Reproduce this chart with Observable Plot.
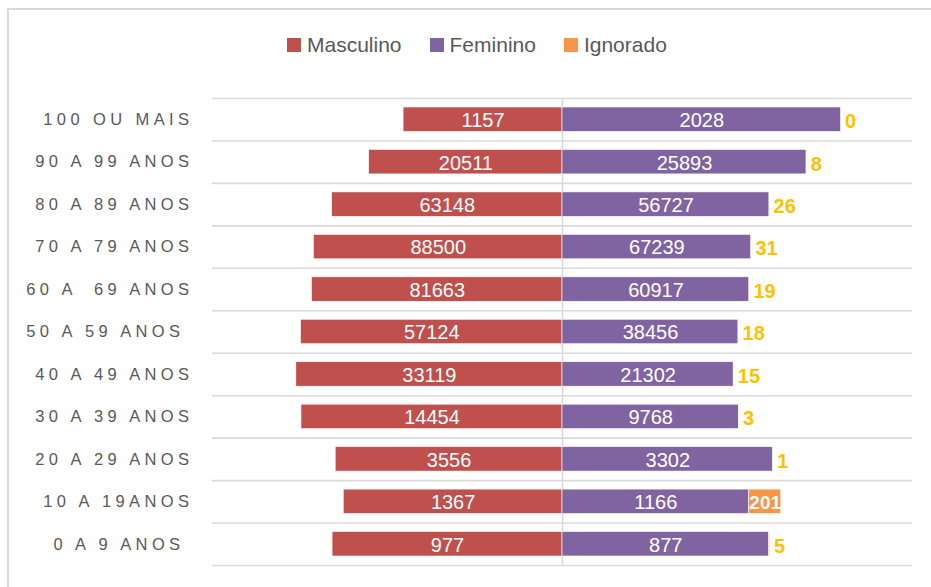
<!DOCTYPE html>
<html>
<head>
<meta charset="utf-8">
<script src="https://cdn.jsdelivr.net/npm/d3@7"></script>
<script src="https://cdn.jsdelivr.net/npm/@observablehq/plot@0.6"></script>
<style>
  html, body { margin: 0; padding: 0; background: #fff; }
  body { width: 931px; height: 587px; position: relative; overflow: hidden; font-family: "Liberation Sans", Arial, sans-serif; }
  #frame { position: absolute; left: 7px; top: 8px; width: 940px; height: 600px; border-left: 2px solid #d9d9d9; border-top: 2px solid #d9d9d9; box-sizing: border-box; }
  #legend { position: absolute; left: 287px; top: 33px; display: flex; align-items: center; gap: 28px; font-size: 21px; color: #595959; }
  #legend .it { display: flex; align-items: center; gap: 6px; }
  #legend .sw { width: 14px; height: 14px; display: inline-block; }
  #chart { position: absolute; left: 0; top: 0; }
  .pyr [aria-label="y-axis tick label"] text { letter-spacing: 4.4px; white-space: pre; }
</style>
</head>
<body>
<div id="frame"></div>
<div id="legend"></div>
<div id="chart"></div>
<script>
const ages = ["100 OU MAIS", "90 A 99 ANOS", "80 A 89 ANOS", "70 A 79 ANOS", "60 A  69 ANOS", "50 A 59 ANOS ", "40 A 49 ANOS", "30 A 39 ANOS", "20 A 29 ANOS", "10 A 19ANOS", "0 A 9 ANOS "];
const masculino = [1157, 20511, 63148, 88500, 81663, 57124, 33119, 14454, 3556, 1367, 977];
const feminino = [2028, 25893, 56727, 67239, 60917, 38456, 21302, 9768, 3302, 1166, 877];
const ignorado = [0, 8, 26, 31, 19, 18, 15, 3, 1, 201, 5];
const sexes = ["Masculino", "Feminino", "Ignorado"];
const colors = ["#C0504D", "#8064A2", "#F79646"];

// each bar's length is its share of the age group's total (100% split around 0)
const rows = [];
ages.forEach((a, i) => {
  const t = masculino[i] + feminino[i] + ignorado[i];
  const m = masculino[i] / t, f = feminino[i] / t, g = ignorado[i] / t;
  rows.push({age: a, sex: "Masculino", n: masculino[i], x1: -m, x2: 0, s: m});
  rows.push({age: a, sex: "Feminino", n: feminino[i], x1: 0, x2: f, s: f});
  rows.push({age: a, sex: "Ignorado", n: ignorado[i], x1: f, x2: f + g, s: g});
});
const mf = rows.filter(d => d.sex !== "Ignorado");
const ignInside = rows.filter(d => d.sex === "Ignorado" && d.s > 0.05);
const ignOutside = rows.filter(d => d.sex === "Ignorado" && d.s <= 0.05);

// legend
const lg = document.getElementById("legend");
sexes.forEach((s, i) => {
  const it = document.createElement("div");
  it.className = "it";
  it.innerHTML = `<span class="sw" style="background:${colors[i]}"></span><span>${s}</span>`;
  lg.appendChild(it);
});

const bandStep = (565 - 98) / ages.length;

const plot = Plot.plot({
  className: "pyr",
  width: 931,
  height: 587,
  marginTop: 98,
  marginBottom: 22,
  marginLeft: 212,
  marginRight: 19,
  style: {fontFamily: "'Liberation Sans', Arial, sans-serif", background: "transparent"},
  x: {domain: [-0.8, 0.8], axis: null},
  y: {domain: ages, padding: 0, round: false, label: null},
  color: {domain: sexes, range: colors},
  marks: [
    Plot.ruleY(ages, {y: d => d, dy: -bandStep / 2, stroke: "#d9d9d9", strokeWidth: 1.6}),
    Plot.ruleY([ages[ages.length - 1]], {y: d => d, dy: bandStep / 2, stroke: "#d9d9d9", strokeWidth: 1.6}),
    Plot.ruleX([0], {stroke: "#d9d9d9", strokeWidth: 1.6}),
    Plot.barX(rows, {x1: "x1", x2: "x2", y: "age", fill: "sex", insetTop: 9, insetBottom: 9, stroke: "white", strokeWidth: 0.6}),
    Plot.text(mf, {x: d => (d.x1 + d.x2) / 2, y: "age", text: d => String(d.n), fill: "white", fontSize: 20, dy: 1}),
    Plot.text(ignInside, {x: d => (d.x1 + d.x2) / 2, y: "age", text: d => String(d.n), fill: "white", fontSize: 19, fontWeight: "bold", dy: 1}),
    Plot.text(ignOutside, {x: "x2", y: "age", text: d => String(d.n), fill: "#FFC000", fontSize: 20, fontWeight: "bold", textAnchor: "start", dx: 4, dy: 2}),
    Plot.axisY({tickSize: 0, tickPadding: 19, fontSize: 16.5, fill: "#595959", label: null})
  ]
});
document.getElementById("chart").appendChild(plot);
</script>
</body>
</html>
